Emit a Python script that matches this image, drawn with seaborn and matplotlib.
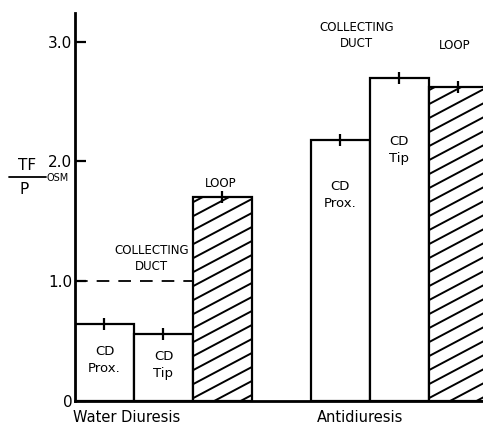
import numpy as np
import pandas as pd
import seaborn as sns
import matplotlib.pyplot as plt
from matplotlib.lines import Line2D
from matplotlib.transforms import IdentityTransform

# Values
conditions = ["Water Diuresis", "Water Diuresis", "Water Diuresis",
              "Antidiuresis", "Antidiuresis", "Antidiuresis"]
segments = ["CD Prox.", "CD Tip", "Loop", "CD Prox.", "CD Tip", "Loop"]
bar_labels = ["CD\nProx.", "CD\nTip", "", "CD\nProx.", "CD\nTip", ""]
tf_p_osm = [0.64, 0.56, 1.70, 2.18, 2.70, 2.62]
sem = [0.05, 0.05, 0.05, 0.05, 0.05, 0.05]
yticks = [0, 1.0, 2.0, 3.0]
ytick_labels = ["0", "1.0", "2.0", "3.0"]

df = pd.DataFrame({"condition": conditions, "segment": segments, "tf_p": tf_p_osm, "sem": sem})
# one empty slot between the two groups
group_idx = df["condition"].map({"Water Diuresis": 0, "Antidiuresis": 1})
df["pos"] = group_idx * 4 + df.groupby("condition", sort=False).cumcount()

sns.set_theme(style="white")
plt.rcParams["font.family"] = ["DejaVu Sans"]
plt.rcParams["text.color"] = "black"
plt.rcParams["ytick.color"] = "black"

fig = plt.figure(figsize=(4.83, 4.30), dpi=100)
ax = fig.add_axes([75 / 483, 29 / 430, 1 - 75 / 483, 388 / 430])

sns.barplot(data=df, x="pos", y="tf_p", native_scale=True, width=1, color="white",
            edgecolor="black", linewidth=1.6, errorbar=None, ax=ax)
for p in ax.patches:
    p.set_facecolor("white")

ax.set_xlim(-0.5, 6.42)
ax.set_ylim(0, 3.24)

# error ticks
ax.errorbar(df["pos"], df["tf_p"], yerr=df["sem"], fmt="none", ecolor="black",
            elinewidth=1.6, capsize=0)

# dashed reference line at 1.0
ax.plot([-0.5, 1.5], [1.0, 1.0], color="black", lw=1.3, dashes=(7, 5))

# slanted hatch for loop bars
slope, step = 0.53, 14
for p, seg in zip(ax.patches, df["segment"]):
    if seg != "Loop":
        continue
    bb = p.get_window_extent()
    x0, x1 = bb.x0, bb.x1
    w = x1 - x0
    for c in np.arange(bb.y0 - slope * w + 6, bb.y1, step):
        ln = Line2D([x0, x1], [c, c + slope * w], color="black", lw=1.4,
                    transform=IdentityTransform())
        ax.add_line(ln)
        ln.set_clip_path(p)

# labels inside bars
label_y = [0.34, 0.30, None, 1.72, 2.10, None]
for x, lab, y in zip(df["pos"], bar_labels, label_y):
    if lab:
        ax.text(x, y, lab, ha="center", va="center", fontsize=9.5, linespacing=1.4)

ax.text(0.80, 1.19, "COLLECTING\nDUCT", ha="center", va="center", fontsize=8.5, linespacing=1.3)
ax.text(1.97, 1.82, "LOOP", ha="center", va="center", fontsize=8.5)
ax.text(4.28, 3.05, "COLLECTING\nDUCT", ha="center", va="center", fontsize=8.5, linespacing=1.3)
ax.text(5.94, 2.97, "LOOP", ha="center", va="center", fontsize=8.5)

# group names below axis
ax.text(0.38, -0.14, "Water Diuresis", ha="center", va="center", fontsize=10.5, clip_on=False)
ax.text(4.33, -0.14, "Antidiuresis", ha="center", va="center", fontsize=10.5, clip_on=False)

ax.set_xticks([])
ax.set_xlabel("")
ax.set_ylabel("")
ax.set_yticks(yticks)
ax.set_yticklabels(ytick_labels, fontsize=11)
ax.tick_params(axis="y", direction="in", length=8, width=1.6, pad=2, left=True)
for s in ["top", "right"]:
    ax.spines[s].set_visible(False)
for s in ["left", "bottom"]:
    ax.spines[s].set_color("black")
    ax.spines[s].set_linewidth(2.0)

# y-axis label as a fraction
fig.text(27 / 483, 1 - 166 / 430, "TF", ha="center", va="center", fontsize=11)
fig.text(24 / 483, 1 - 189 / 430, "P", ha="center", va="center", fontsize=11)
fig.add_artist(Line2D([9 / 483, 46 / 483], [1 - 177 / 430, 1 - 177 / 430], color="black", lw=1.3))
fig.text(58 / 483, 1 - 178 / 430, "OSM", ha="center", va="center", fontsize=7)

fig.savefig("out.png", dpi=100)
